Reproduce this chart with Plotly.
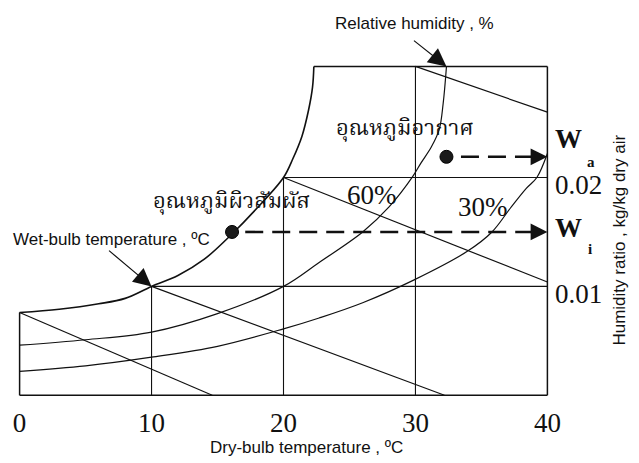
import plotly.graph_objects as go

# ---------------- data ----------------
temp_ticks = [0, 10, 20, 30, 40]                 # dry-bulb °C
w_ticks = [0.01, 0.02]                           # humidity ratio
w_tick_text = ["0.01", "0.02"]
T_MIN, T_MAX = 0, 40
W_MIN, W_TOP = 0.0, 0.0302

# saturation curve (100 % RH)
sat_t = [0, 3, 6, 8, 10, 12, 14, 16, 18, 20, 20.7, 21.4, 21.9, 22.2, 22.3]
sat_w = [0.0076, 0.0079, 0.0084, 0.0089, 0.0100, 0.0110, 0.0125, 0.0147, 0.0172,
         0.0200, 0.0217, 0.0238, 0.0262, 0.0283, 0.0302]

# 60 % RH curve
rh60_t = [0, 5, 10, 15, 20, 22.7, 26, 28, 29.8, 30.4, 31.2, 31.8, 32.1, 32.35]
rh60_w = [0.0046, 0.0051, 0.0058, 0.0075, 0.0100, 0.0122, 0.0150, 0.0173, 0.0201,
          0.0213, 0.0228, 0.0244, 0.0268, 0.0302]

# 30 % RH curve
rh30_t = [0, 5, 10, 15, 20, 22.7, 26, 29.9, 33.9, 35.8, 37.2, 38.4, 39.2, 40]
rh30_w = [0.0022, 0.0027, 0.0035, 0.0045, 0.0061, 0.0071, 0.0085, 0.0106, 0.0132,
          0.0150, 0.0172, 0.0190, 0.0200, 0.0222]

# wet-bulb lines (start -> end)
wb_t0 = [0, 10, 20, 30]
wb_w0 = [0.0076, 0.0100, 0.0200, 0.0302]
wb_t1 = [14.6, 32.2, 40, 40]
wb_w1 = [0.0, 0.0, 0.0104, 0.0260]

# grid lines: vertical (temp, top W) and horizontal (W, start temp)
vgrid_t = [10, 20, 30]
vgrid_top = [0.0100, 0.0200, 0.0302]
hgrid_w = [0.01, 0.02]
hgrid_t0 = [10, 20]

# state points
air_t, air_w = 32.35, 0.0219      # อุณหภูมิอากาศ  -> W_a
surf_t, surf_w = 16.1, 0.0150     # อุณหภูมิผิวสัมผัส -> W_i

# ---------------- figure ----------------
INK = "#111111"
X_RANGE = [-0.5, 40.5]
Y_RANGE = [-0.0008, 0.0307]
fig = go.Figure()


def seg_trace(xs, ys, width=1.2, color=INK, dash=None):
    fig.add_trace(go.Scatter(x=xs, y=ys, mode="lines", hoverinfo="skip",
                             line=dict(color=color, width=width, dash=dash),
                             showlegend=False))


# frame
fx, fy = [], []
fx += [T_MIN, T_MIN, None]; fy += [sat_w[0], W_MIN, None]
fx += [T_MIN, T_MAX, None]; fy += [W_MIN, W_MIN, None]
fx += [T_MAX, T_MAX, None]; fy += [W_MIN, W_TOP, None]
fx += [sat_t[-1], T_MAX, None]; fy += [W_TOP, W_TOP, None]
seg_trace(fx, fy, width=1.5)

# grid
gx, gy = [], []
for t, top in zip(vgrid_t, vgrid_top):
    gx += [t, t, None]; gy += [W_MIN, top, None]
for w, t0 in zip(hgrid_w, hgrid_t0):
    gx += [t0, T_MAX, None]; gy += [w, w, None]
seg_trace(gx, gy, width=1.1)

# wet-bulb lines
bx, by = [], []
for a, b, c, d in zip(wb_t0, wb_w0, wb_t1, wb_w1):
    bx += [a, c, None]; by += [b, d, None]
seg_trace(bx, by, width=1.2)

# RH curves
for xs, ys, lw in ((rh60_t, rh60_w, 1.2), (rh30_t, rh30_w, 1.2), (sat_t, sat_w, 1.6)):
    fig.add_trace(go.Scatter(x=xs, y=ys, mode="lines", line_shape="spline",
                             line=dict(color=INK, width=lw), showlegend=False,
                             hoverinfo="skip"))

# dashed projections
ARROW_GAP = 1.0
seg_trace([air_t + 1.1, T_MAX - ARROW_GAP], [air_w, air_w], width=2.6, dash="18px,9px")
seg_trace([surf_t + 1.0, T_MAX - ARROW_GAP], [surf_w, surf_w], width=2.6, dash="18px,9px")

# points
fig.add_trace(go.Scatter(x=[air_t, surf_t], y=[air_w, surf_w], mode="markers",
                         marker=dict(size=13, color="#1a1a1a",
                                     line=dict(color="#000", width=1)),
                         showlegend=False, hoverinfo="skip", cliponaxis=False))

SERIF = "Liberation Serif, Times New Roman, serif"
SANS = "Liberation Sans, Arial, sans-serif"
THAI = "Noto Serif Thai, Noto Sans Thai, Loma, Garuda, Norasi, Tlwg Typo, serif"


def px(t):
    return (t - X_RANGE[0]) / (X_RANGE[1] - X_RANGE[0])


def py(w):
    return (w - Y_RANGE[0]) / (Y_RANGE[1] - Y_RANGE[0])


ann = []
# arrowheads of the dashed lines
for w in (air_w, surf_w):
    ann.append(dict(x=T_MAX, y=w, xref="x", yref="y", ax=-18, ay=0, text="",
                    showarrow=True, arrowhead=2, arrowsize=1.4, arrowwidth=2.4,
                    arrowcolor=INK))
# pointer arrows
ann.append(dict(x=rh60_t[-1], y=W_TOP, xref="x", yref="y", ax=-34, ay=-27,
                text="", showarrow=True, arrowhead=2, arrowsize=3.0, arrowwidth=1.2,
                arrowcolor=INK))
ann.append(dict(x=10, y=0.0100, xref="x", yref="y", ax=-44, ay=-37, text="",
                showarrow=True, arrowhead=2, arrowsize=3.0, arrowwidth=1.2,
                arrowcolor=INK))


def txt(t, w, s, size, family, **kw):
    d = dict(x=px(t), y=py(w), xref="paper", yref="paper", text=s, showarrow=False,
             xanchor="center", yanchor="middle",
             font=dict(size=size, family=family, color=INK))
    d.update(kw)
    ann.append(d)


txt(29.9, 0.0341, "Relative humidity , %", 17, SANS)
txt(6.97, 0.0143, "Wet-bulb temperature , ºC", 17, SANS)
txt(29.24, 0.0244, "อุณหภูมิอากาศ", 22, THAI)
txt(16.06, 0.0177, "อุณหภูมิผิวสัมผัส", 22, THAI)
txt(26.7, 0.0184, "60%", 27, SERIF)
txt(35.1, 0.01725, "30%", 27, SERIF)
txt(41.6, 0.0235, "<b>W</b>", 27, SERIF)
txt(43.3, 0.0214, "<b>a</b>", 15, SERIF)
txt(41.6, 0.0154, "<b>W</b>", 27, SERIF)
txt(43.2, 0.0134, "<b>i</b>", 15, SERIF)
txt(21.74, -0.00477, "Dry-bulb temperature , ºC", 17, SANS)
txt(45.5, 0.0143, "Humidity ratio , kg/kg dry air", 17, SANS, textangle=-90)

# page body has an 8px margin, so the figure is sized to fit inside the window
fig.update_layout(
    width=631, height=455,
    margin=dict(l=5, r=85, t=53, b=59),
    paper_bgcolor="white", plot_bgcolor="white",
    annotations=ann,
    xaxis=dict(range=X_RANGE, tickvals=temp_ticks,
               ticktext=[str(t) for t in temp_ticks],
               showgrid=False, zeroline=False, showline=False, ticks="",
               tickfont=dict(family=SERIF, size=27, color=INK)),
    yaxis=dict(range=Y_RANGE, side="right", tickvals=w_ticks,
               ticktext=w_tick_text, showgrid=False, zeroline=False,
               showline=False, ticks="", ticklabelshift=7,
               tickfont=dict(family=SERIF, size=27, color=INK)),
)

fig.write_html("out.html")
